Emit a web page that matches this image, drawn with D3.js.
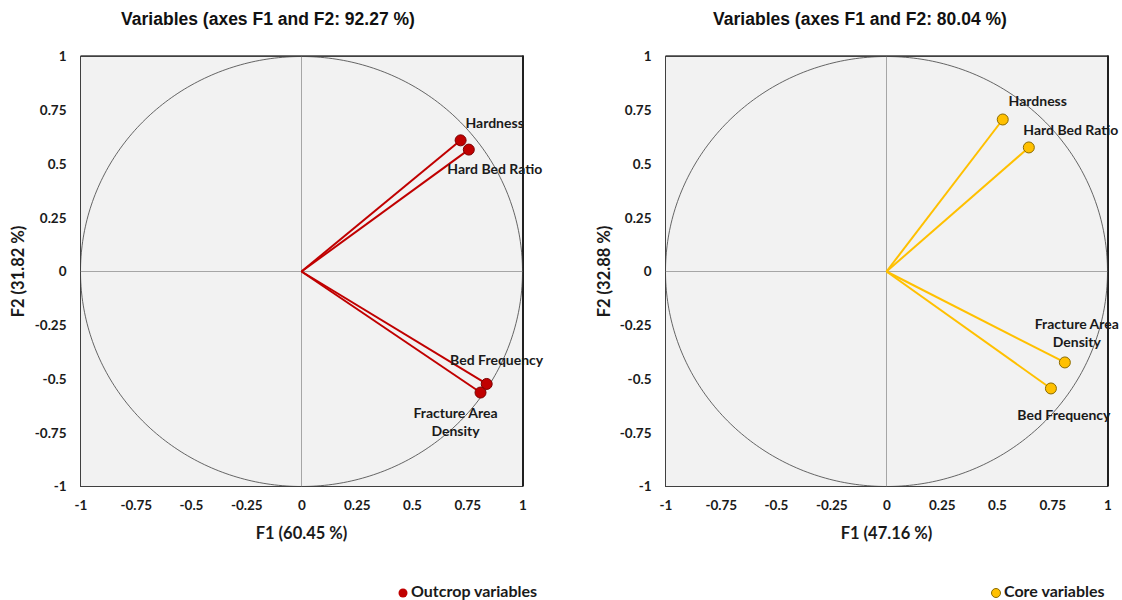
<!DOCTYPE html>
<html><head><meta charset="utf-8">
<script src="https://cdn.jsdelivr.net/npm/d3@7"></script>
<style>body{margin:0;background:#fff;} svg{display:block;}</style>
</head><body>
<svg id="chart" width="1122" height="600"></svg>
<script>
const ticks = [-1, -0.75, -0.5, -0.25, 0, 0.25, 0.5, 0.75, 1];
const tickLabels = ["-1", "-0.75", "-0.5", "-0.25", "0", "0.25", "0.5", "0.75", "1"];

const outcropVars = ["Hardness", "Hard Bed Ratio", "Bed Frequency", "Fracture Area Density"];
const outcropF1 = [0.72, 0.757, 0.838, 0.81];
const outcropF2 = [0.61, 0.567, -0.523, -0.563];

const coreVars = ["Hardness", "Hard Bed Ratio", "Fracture Area Density", "Bed Frequency"];
const coreF1 = [0.526, 0.644, 0.807, 0.744];
const coreF2 = [0.707, 0.577, -0.423, -0.544];

const panels = [
  {title: "Variables (axes F1 and F2: 92.27 %)", xLab: "F1 (60.45 %)", yLab: "F2 (31.82 %)",
   names: outcropVars, f1: outcropF1, f2: outcropF2, color: "#C00000", stroke: "#7a0000",
   legend: "Outcrop variables", x0: 80.5, x1: 522.5, titleX: 268, yLabX: 18, legDot: 403,
   labels: [{dx: 34, dy: -17}, {dx: 26, dy: 19}, {dx: 10, dy: -24}, {dx: -25, dy: 20}]},
  {title: "Variables (axes F1 and F2: 80.04 %)", xLab: "F1 (47.16 %)", yLab: "F2 (32.88 %)",
   names: coreVars, f1: coreF1, f2: coreF2, color: "#FFC000", stroke: "#8a6a00",
   legend: "Core variables", x0: 665.5, x1: 1107.5, titleX: 860, yLabX: 604, legDot: 996,
   labels: [{dx: 35, dy: -18}, {dx: 42, dy: -17}, {dx: 12, dy: -38}, {dx: 13, dy: 27}]}
];

const svg = d3.select("#chart");
const yTop = 56.5, yBot = 486.5;
const tickFont = "Lato, 'Open Sans', sans-serif";

panels.forEach(p => {
  const x = d3.scaleLinear().domain([-1, 1]).range([p.x0, p.x1]);
  const y = d3.scaleLinear().domain([-1, 1]).range([yBot, yTop]);
  const g = svg.append("g");

  g.append("rect").attr("x", x(-1)).attr("y", y(1))
    .attr("width", x(1) - x(-1)).attr("height", y(-1) - y(1))
    .attr("fill", "#f2f2f2").attr("stroke", "#404040").attr("stroke-width", 1);
  g.append("line").attr("x1", x(-1)).attr("x2", x(1) + 1).attr("y1", y(1) - 0.5).attr("y2", y(1) - 0.5)
    .attr("stroke", "#404040").attr("stroke-width", 1.5);
  g.append("line").attr("x1", x(1) + 0.5).attr("x2", x(1) + 0.5).attr("y1", y(1) - 1).attr("y2", y(-1))
    .attr("stroke", "#202020").attr("stroke-width", 2);

  // zero axes
  g.append("line").attr("x1", x(-1)).attr("x2", x(1)).attr("y1", y(0)).attr("y2", y(0))
    .attr("stroke", "#a6a6a6").attr("stroke-width", 1);
  g.append("line").attr("x1", x(0)).attr("x2", x(0)).attr("y1", y(1)).attr("y2", y(-1))
    .attr("stroke", "#a6a6a6").attr("stroke-width", 1);

  // circle
  const circ = d3.range(0, 361).map(a => [Math.cos(a * Math.PI / 180), Math.sin(a * Math.PI / 180)]);
  g.append("path").datum(circ)
    .attr("d", d3.line().x(d => x(d[0])).y(d => y(d[1])))
    .attr("fill", "none").attr("stroke", "#404040").attr("stroke-width", 0.8);

  // axes ticks labels
  const xAxis = d3.axisBottom(x).tickValues(ticks).tickFormat((d, i) => tickLabels[i]).tickSize(0).tickPadding(14);
  const xa = g.append("g").attr("transform", `translate(0,${yBot})`).call(xAxis);
  xa.select(".domain").remove();
  xa.selectAll("text").attr("font-family", tickFont).attr("font-weight", "bold").attr("font-size", 13.5).attr("fill", "#1a1a1a");
  const yAxis = d3.axisLeft(y).tickValues(ticks).tickFormat((d, i) => tickLabels[i]).tickSize(0).tickPadding(14);
  const ya = g.append("g").attr("transform", `translate(${p.x0},0)`).call(yAxis);
  ya.select(".domain").remove();
  ya.selectAll("text").attr("font-family", tickFont).attr("font-weight", "bold").attr("font-size", 13.5).attr("fill", "#1a1a1a");

  // vectors
  p.names.forEach((n, i) => {
    g.append("line").attr("x1", x(0)).attr("y1", y(0)).attr("x2", x(p.f1[i])).attr("y2", y(p.f2[i]))
      .attr("stroke", p.color).attr("stroke-width", 2);
  });
  p.names.forEach((n, i) => {
    g.append("circle").attr("cx", x(p.f1[i])).attr("cy", y(p.f2[i])).attr("r", 5.5)
      .attr("fill", p.color).attr("stroke", p.stroke).attr("stroke-width", 1);
    const words = n === "Fracture Area Density" ? ["Fracture Area", "Density"] : [n];
    const t = g.append("text").attr("text-anchor", "middle")
      .attr("font-family", tickFont).attr("font-weight", "bold").attr("font-size", 14).attr("fill", "#1a1a1a");
    words.forEach((w, k) => {
      t.append("tspan").attr("x", x(p.f1[i]) + p.labels[i].dx)
        .attr("y", y(p.f2[i]) + p.labels[i].dy + 5 + k * 18).text(w);
    });
  });

  // titles
  svg.append("text").attr("x", p.titleX).attr("y", 25).attr("text-anchor", "middle")
    .attr("font-family", "'Liberation Sans', Arial, sans-serif").attr("font-weight", "bold")
    .attr("font-size", 17.5).attr("fill", "#111").text(p.title);
  svg.append("text").attr("x", x(0)).attr("y", 539).attr("text-anchor", "middle")
    .attr("font-family", tickFont).attr("font-weight", "bold").attr("font-size", 16.5).attr("fill", "#1a1a1a").text(p.xLab);
  svg.append("text").attr("transform", `translate(${p.yLabX + 6},${y(0)}) rotate(-90)`).attr("text-anchor", "middle")
    .attr("font-family", tickFont).attr("font-weight", "bold").attr("font-size", 16.5).attr("fill", "#1a1a1a").text(p.yLab);

  // legend
  svg.append("circle").attr("cx", p.legDot).attr("cy", 593).attr("r", 4.5).attr("fill", p.color)
    .attr("stroke", p.stroke).attr("stroke-width", p.color === "#FFC000" ? 1 : 0);
  svg.append("text").attr("x", p.legDot + 8).attr("y", 597)
    .attr("font-family", tickFont).attr("font-weight", "bold").attr("font-size", 16).attr("fill", "#1a1a1a").text(p.legend);
});
</script>
</body></html>
